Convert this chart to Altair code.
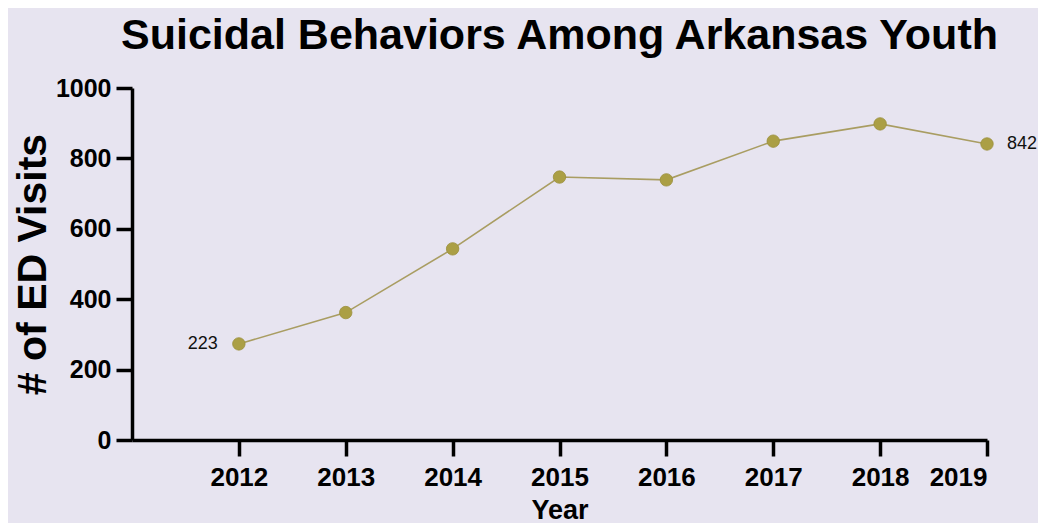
import altair as alt
import pandas as pd

years = [2012, 2013, 2014, 2015, 2016, 2017, 2018, 2019]
visits = [273, 362, 543, 747, 739, 849, 898, 841]
label_years = [2012, 2019]
label_values = [273, 841]
label_texts = ["223", "842"]
label_side = ["left", "right"]

df = pd.DataFrame({"Year": years, "Visits": visits})
lab = pd.DataFrame({"Year": label_years, "Visits": label_values, "txt": label_texts, "side": label_side})

FONT = "Liberation Sans"

x = alt.X("Year:Q", scale=alt.Scale(domain=[2011, 2019], nice=False, zero=False),
          axis=alt.Axis(values=years, format="d", title="Year"))
y = alt.Y("Visits:Q", scale=alt.Scale(domain=[0, 1000], nice=False),
          axis=alt.Axis(values=[0, 200, 400, 600, 800, 1000], format="d", title="# of ED Visits"))

line = alt.Chart(df).mark_line(color="#a99d62", strokeWidth=1.6).encode(x=x, y=y)
pts = alt.Chart(df).mark_circle(size=155, color="#ab9f45", opacity=1,
                                stroke="#9a8f3c", strokeWidth=0.8).encode(x=x, y=y)
left_lab = alt.Chart(lab[lab.side == "left"]).mark_text(
    align="right", baseline="middle", dx=-21, fontSize=18, font=FONT, color="#111111"
).encode(x=x, y=y, text="txt:N")
right_lab = alt.Chart(lab[lab.side == "right"]).mark_text(
    align="left", baseline="middle", dx=20, fontSize=18, font=FONT, color="#111111"
).encode(x=x, y=y, text="txt:N")

chart = alt.layer(line, pts, left_lab, right_lab).properties(
    width=855, height=352,
    title=alt.TitleParams("Suicidal Behaviors Among Arkansas Youth", fontSize=43, font=FONT,
                          fontWeight="bold", color="#000000", anchor="middle", offset=18),
    autosize=alt.AutoSizeParams(type="none"),
    padding={"left": 124, "top": 80, "right": 51, "bottom": 83},
    background="#e7e4f0",
).configure_view(stroke=None).configure_axis(
    domainColor="#000000", domainWidth=3.5, tickColor="#000000", tickWidth=3.5, tickSize=16,
    labelFont=FONT, labelFontSize=25, labelFontWeight="bold", labelColor="#000000",
    titleFont=FONT, titleColor="#000000", titleFontWeight="bold", grid=False,
).configure_axisX(
    labelPadding=8, labelFontSize=26, titleFontSize=27, titlePadding=7,
).configure_axisY(
    labelPadding=5, titleFontSize=41, titlePadding=1,
)

chart.save("out.html", embed_options={"renderer": "svg", "actions": False})
